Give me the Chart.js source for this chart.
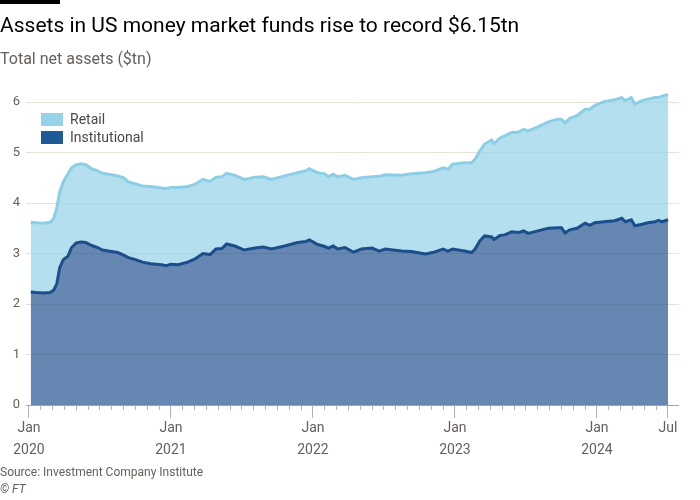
<!DOCTYPE html>
<html>
<head>
<meta charset="utf-8">
<script src="https://cdn.jsdelivr.net/npm/chart.js@4.4.1/dist/chart.umd.min.js"></script>
<style>
  body { margin: 0; width: 700px; height: 500px; background: #fff; position: relative; overflow: hidden;
         font-family: Roboto, "Noto Sans", sans-serif; }
  #bar { position: absolute; left: 0; top: 0; width: 60px; height: 4px; background: #000; }
  #title { position: absolute; left: 0; top: 12px; font-size: 21px; line-height: 26px; color: #000; white-space: nowrap; }
  #subtitle { position: absolute; left: 0; top: 49px; font-size: 16px; line-height: 20px; color: #66605c; white-space: nowrap; }
  #legend { position: absolute; left: 41px; top: 110px; font-size: 14px; color: #4d4845; }
  #legend .item { height: 18px; line-height: 18px; display: flex; align-items: center; }
  #legend .sw { display: inline-block; width: 22px; height: 13px; margin-right: 7px; }
  #source { position: absolute; left: 0; top: 464px; font-size: 12px; line-height: 16px; color: #66605c; }
  #copy { position: absolute; left: 0; top: 481px; font-size: 12px; line-height: 16px; color: #66605c; font-style: italic; }
  canvas { position: absolute; left: 0; top: 0; }
</style>
</head>
<body>
<canvas id="chart" width="700" height="500"></canvas>
<div id="bar"></div>
<div id="title">Assets in US money market funds rise to record $6.15tn</div>
<div id="subtitle">Total net assets ($tn)</div>
<div id="legend">
  <div class="item"><span class="sw" style="background:#96d3e9"></span>Retail</div>
  <div class="item"><span class="sw" style="background:#1f5a97"></span>Institutional</div>
</div>
<div id="source">Source: Investment Company Institute</div>
<div id="copy">© FT</div>
<script>
// months since Jan 2020
const months = [
  0.15, 0.6, 1.2, 1.8, 2.1, 2.35, 2.6, 2.9, 3.3, 3.6, 4.0, 4.4, 4.8, 5.3, 5.8, 6.2, 6.7, 7.5, 8.0, 8.4,
  9.0, 9.6, 10.3, 11.2, 11.6, 12.0, 12.6, 13.4, 14.0, 14.7, 15.3, 15.8, 16.3, 16.7, 17.4, 18.2, 19.1, 19.8,
  20.5, 21.6, 22.7, 23.4, 23.7, 24.4, 25.0, 25.3, 25.7, 26.1, 26.7, 27.4, 28.1, 29.0, 29.6, 30.1, 31.5,
  32.3, 33.5, 34.1, 35.0, 35.4, 35.8, 36.8, 37.4, 37.7, 38.1, 38.5, 39.1, 39.3, 39.8, 40.2, 40.8, 41.4,
  41.8, 42.2, 43.0, 43.9, 44.7, 45.0, 45.3, 45.7, 46.3, 47.0, 47.4, 47.8, 48.6, 49.5, 50.1, 50.4, 50.9,
  51.2, 51.8, 52.3, 52.9, 53.2, 53.5, 54.0
];

// $tn
const institutional = [
  2.24, 2.23, 2.22, 2.23, 2.28, 2.40, 2.72, 2.88, 2.95, 3.12, 3.21, 3.23, 3.22, 3.16, 3.12, 3.07, 3.05, 3.02, 2.97, 2.92,
  2.88, 2.83, 2.80, 2.78, 2.76, 2.79, 2.78, 2.83, 2.89, 3.00, 2.98, 3.09, 3.10, 3.19, 3.15, 3.07, 3.11, 3.13,
  3.09, 3.15, 3.22, 3.24, 3.27, 3.18, 3.14, 3.11, 3.15, 3.09, 3.12, 3.03, 3.09, 3.11, 3.05, 3.09, 3.05,
  3.04, 2.99, 3.02, 3.09, 3.05, 3.09, 3.05, 3.02, 3.09, 3.25, 3.35, 3.33, 3.28, 3.36, 3.37, 3.43, 3.42,
  3.45, 3.40, 3.45, 3.50, 3.51, 3.51, 3.41, 3.47, 3.50, 3.60, 3.56, 3.61, 3.63, 3.65, 3.70, 3.63, 3.67,
  3.55, 3.58, 3.61, 3.63, 3.66, 3.63, 3.67
];

const retail = [
  1.38, 1.38, 1.38, 1.39, 1.42, 1.50, 1.50, 1.54, 1.63, 1.58, 1.55, 1.55, 1.54, 1.52, 1.52, 1.52, 1.52, 1.52, 1.53, 1.50,
  1.50, 1.51, 1.53, 1.52, 1.53, 1.52, 1.53, 1.50, 1.48, 1.47, 1.45, 1.42, 1.42, 1.40, 1.40, 1.40, 1.40, 1.39,
  1.38, 1.39, 1.38, 1.40, 1.41, 1.42, 1.44, 1.41, 1.42, 1.43, 1.43, 1.44, 1.41, 1.41, 1.48, 1.47, 1.50,
  1.54, 1.61, 1.60, 1.61, 1.62, 1.68, 1.75, 1.78, 1.78, 1.78, 1.82, 1.92, 1.90, 1.93, 1.96, 1.97, 1.99,
  2.01, 2.03, 2.06, 2.11, 2.15, 2.15, 2.18, 2.21, 2.23, 2.26, 2.30, 2.32, 2.38, 2.40, 2.39, 2.40, 2.42,
  2.41, 2.45, 2.45, 2.46, 2.43, 2.49, 2.48
];

const yTicks = [0, 1, 2, 3, 4, 5, 6];
const labelMonths = [0, 12, 24, 36, 48, 54];
const labelTexts = [['Jan', '2020'], ['Jan', '2021'], ['Jan', '2022'], ['Jan', '2023'], ['Jan', '2024'], ['Jul']];

const monthTicks = [];
for (let m = 0; m <= 54; m++) monthTicks.push(m);

const ctx = document.getElementById('chart').getContext('2d');
const chart = new Chart(ctx, {
    type: 'line',
    data: {
        datasets: [{
            label: 'Institutional',
            data: months.map((m, i) => ({ x: m, y: institutional[i] })),
            borderColor: '#1b4e8b',
            backgroundColor: 'rgba(28, 78, 140, 0.68)',
            borderWidth: 3,
            fill: 'origin',
            pointRadius: 0,
            tension: 0,
        }, {
            label: 'Retail',
            data: months.map((m, i) => ({ x: m, y: retail[i] })),
            borderColor: '#8ccfe5',
            backgroundColor: 'rgba(150, 210, 232, 0.72)',
            borderWidth: 3,
            fill: '-1',
            pointRadius: 0,
            tension: 0,
        }]
    },
    options: {
        responsive: false,
        animation: false,
        layout: { padding: { left: 0, right: 21, top: 87, bottom: 38 } },
        scales: {
            x: {
                type: 'linear',
                min: -0.25,
                max: 54.93,
                afterBuildTicks: s => { s.ticks = monthTicks.map(v => ({ value: v })); },
                afterFit: s => { s.height = 57; },
                border: { display: false },
                grid: {
                    drawOnChartArea: false,
                    tickLength: 13,
                    tickColor: '#b8b1ab',
                    tickBorderDash: c => labelMonths.includes(c.tick.value) ? [] : [5, 30],
                },
                ticks: {
                    autoSkip: false,
                    maxRotation: 0,
                    padding: 0,
                    color: '#66605c',
                    font: { family: 'Roboto', size: 14, lineHeight: 1.55 },
                    callback: v => {
                        const i = labelMonths.indexOf(v);
                        return i >= 0 ? labelTexts[i] : '';
                    }
                }
            },
            y: {
                stacked: true,
                min: 0,
                max: 6.3,
                afterBuildTicks: s => { s.ticks = yTicks.map(v => ({ value: v })); },
                afterFit: s => { s.width = 26; },
                border: { display: false },
                grid: {
                    drawTicks: false,
                    color: c => c.tick.value === 0 ? '#aaa39d' : '#e9e0d8',
                },
                ticks: {
                    padding: 6,
                    color: '#66605c',
                    font: { family: 'Roboto', size: 13 },
                }
            }
        },
        plugins: {
            legend: { display: false },
            tooltip: { enabled: false }
        }
    }
});
</script>
</body>
</html>
